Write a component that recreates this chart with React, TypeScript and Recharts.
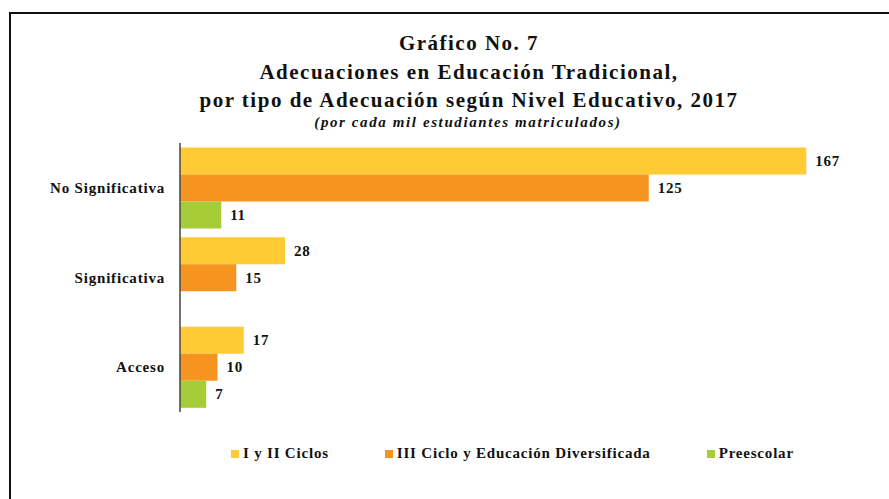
import React from 'react';
import { BarChart, Bar, XAxis, YAxis, LabelList } from 'recharts';

const categories = ['No Significativa', 'Significativa', 'Acceso'];
const ciclosIyII = [167, 28, 17];
const cicloIII = [125, 15, 10];
const preescolar: (number | null)[] = [11, null, 7];

const seriesNames = ['I y II Ciclos', 'III Ciclo y Educación Diversificada', 'Preescolar'];
const COLORS = ['#FFCA33', '#F5941F', '#A6CC38'];

const data = categories.map((name, i) => ({
  name,
  a: ciclosIyII[i],
  b: cicloIII[i],
  c: preescolar[i],
}));

const FONT = '"Liberation Serif", "Times New Roman", serif';

const ValueLabel = (props: any) => {
  const { x, y, width, height, value } = props;
  if (value === null || value === undefined) return null;
  return (
    <text x={x + width + 9} y={y + height / 2} dy={5} fontFamily={FONT} fontWeight="bold" fontSize={15} letterSpacing={0.7} fill="#111">
      {value}
    </text>
  );
};

const LegendBox = () => (
  <div style={{ position: 'absolute', top: 445, left: 231, display: 'flex', gap: 56, fontFamily: FONT, fontWeight: 'bold', fontSize: 15, letterSpacing: 0.8, color: '#111' }}>
    {seriesNames.map((n, i) => (
      <div key={n} style={{ display: 'flex', alignItems: 'center', gap: 4 }}>
        <span style={{ width: 8, height: 8, background: COLORS[i], display: 'inline-block' }}></span>
        <span>{n}</span>
      </div>
    ))}
  </div>
);

export default function App() {
  return (
    <div style={{ position: 'fixed', left: 0, top: 0, width: 889, height: 499, background: '#fff', overflow: 'hidden' }}>
      {/* frame */}
      <div style={{ position: 'absolute', left: 9, top: 12, width: 900, height: 500, borderLeft: '2px solid #111', borderTop: '2px solid #111' }}></div>

      <div style={{ position: 'absolute', top: 29, left: 0, width: 938, textAlign: 'center', fontFamily: FONT, fontWeight: 'bold', fontSize: 21, letterSpacing: 1.5, lineHeight: '28.5px', color: '#111' }}>
        <div>Gráfico No. 7</div>
        <div>Adecuaciones en Educación Tradicional,</div>
        <div>por tipo de Adecuación según Nivel Educativo, 2017</div>
      </div>
      <div style={{ position: 'absolute', top: 114, left: 0, width: 936, textAlign: 'center', fontFamily: FONT, fontWeight: 'bold', fontStyle: 'italic', fontSize: 15, letterSpacing: 1.6, color: '#111' }}>
        (por cada mil estudiantes matriculados)
      </div>

      <div style={{ position: 'absolute', left: 0, top: 0 }}>
        <BarChart
          width={889}
          height={499}
          data={data}
          layout="vertical"
          margin={{ top: 143, right: 34, bottom: 87, left: 0 }}
          barCategoryGap="5%"
          barGap={0}
        >
          <XAxis type="number" domain={[0, 180]} tick={false} tickLine={false} height={0} axisLine={{ stroke: '#555', strokeWidth: 2 }} />
          <YAxis
            type="category"
            dataKey="name"
            width={180}
            tickLine={false}
            tickSize={0}
            tickMargin={15}
            axisLine={{ stroke: '#444', strokeWidth: 1.5 }}
            tick={{ fontFamily: FONT, fontWeight: 'bold', fontSize: 15, fill: '#111', letterSpacing: 0.8 }}
          />
          <Bar dataKey="a" fill={COLORS[0]} isAnimationActive={false}>
            <LabelList dataKey="a" content={ValueLabel} />
          </Bar>
          <Bar dataKey="b" fill={COLORS[1]} isAnimationActive={false}>
            <LabelList dataKey="b" content={ValueLabel} />
          </Bar>
          <Bar dataKey="c" fill={COLORS[2]} isAnimationActive={false}>
            <LabelList dataKey="c" content={ValueLabel} />
          </Bar>
        </BarChart>
      </div>
      <LegendBox />
    </div>
  );
}
